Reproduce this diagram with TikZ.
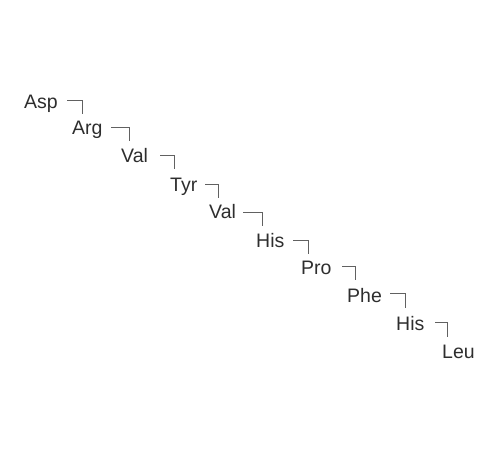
\documentclass[tikz,border=0pt]{standalone}
\usepackage{fontspec}
\setmainfont{Liberation Sans}
\begin{document}
\begin{tikzpicture}[x=1pt,y=-1pt,
  res/.style={anchor=base west,inner sep=0pt,text=black!82,font=\fontsize{19.5}{23}\selectfont},
  link/.style={draw=black!62,line width=1pt}]
\useasboundingbox (0,0) rectangle (500,450);
\node[res] (r1) at (24,108) {Asp};
\node[res] (r2) at (72,134) {Arg};
\node[res] (r3) at (121,162) {Val};
\node[res] (r4) at (170,191) {Tyr};
\node[res] (r5) at (209,218) {Val};
\node[res] (r6) at (256,247) {His};
\node[res] (r7) at (301,274) {Pro};
\node[res] (r8) at (347,302) {Phe};
\node[res] (r9) at (396,330) {His};
\node[res] (r10) at (442,358) {Leu};
\coordinate (a1) at (67,100);  \coordinate (b1) at (82,114);
\coordinate (a2) at (111,127); \coordinate (b2) at (129,141);
\coordinate (a3) at (160,155); \coordinate (b3) at (174,169);
\coordinate (a4) at (205,184); \coordinate (b4) at (218,198);
\coordinate (a5) at (243,212); \coordinate (b5) at (262,226);
\coordinate (a6) at (293,240); \coordinate (b6) at (308,254);
\coordinate (a7) at (342,266); \coordinate (b7) at (355,280);
\coordinate (a8) at (390,293); \coordinate (b8) at (405,308);
\coordinate (a9) at (435,322); \coordinate (b9) at (447,337);
\foreach \i in {1,...,9}{\draw[link] (a\i) -| (b\i);}
\end{tikzpicture}
\end{document}
